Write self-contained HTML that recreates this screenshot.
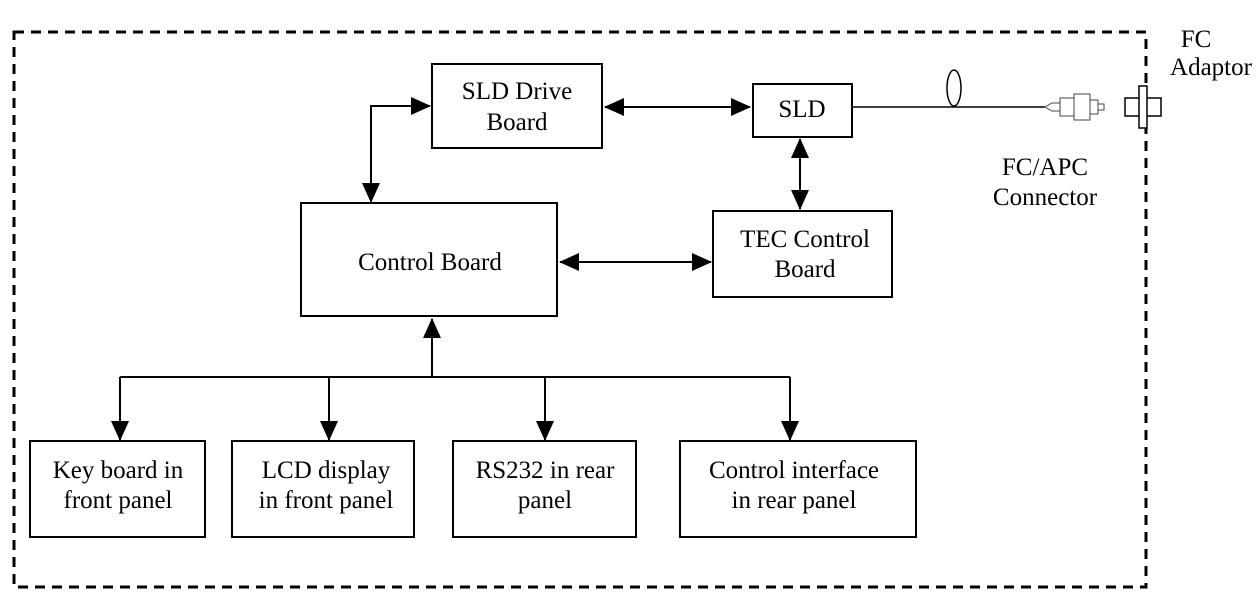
<!DOCTYPE html>
<html><head><meta charset="utf-8"><style>
html,body{margin:0;padding:0;background:#fff;}
svg text{font-family:"Liberation Serif",serif;font-size:25px;fill:#000;}
</style></head><body>
<svg width="1256" height="610" viewBox="0 0 1256 610" xmlns="http://www.w3.org/2000/svg">
<defs>
<marker id="a" markerWidth="20" markerHeight="18" refX="19" refY="9" orient="auto-start-reverse" markerUnits="userSpaceOnUse" viewBox="0 0 20 18">
<path d="M0,0 L20,9 L0,18 z" fill="#000"/></marker>
</defs>
<rect x="14" y="32" width="1132" height="555" fill="none" stroke="#000" stroke-width="3" stroke-dasharray="10,7"/>
<g fill="#fff" stroke="#000" stroke-width="2">
<rect x="432" y="64" width="170" height="84"/>
<rect x="753" y="84" width="99" height="53"/>
<rect x="301" y="203" width="256" height="113"/>
<rect x="713" y="211" width="179" height="86"/>
<rect x="30" y="441" width="175" height="96"/>
<rect x="232" y="441" width="182" height="96"/>
<rect x="453" y="441" width="183" height="96"/>
<rect x="680" y="441" width="236" height="96"/>
</g>
<g stroke="#000" stroke-width="2" fill="none">
<path d="M605,107 L750,107" marker-start="url(#a)" marker-end="url(#a)"/>
<path d="M800,139 L800,209" marker-start="url(#a)" marker-end="url(#a)"/>
<path d="M560,262 L711,262" marker-start="url(#a)" marker-end="url(#a)"/>
<path d="M371,202 L371,106 L430,106" marker-start="url(#a)" marker-end="url(#a)"/>
<path d="M432,377 L432,319" marker-end="url(#a)"/>
<path d="M120,377 L790,377"/>
<path d="M120,377 L120,440" marker-end="url(#a)"/>
<path d="M329,377 L329,440" marker-end="url(#a)"/>
<path d="M545,377 L545,440" marker-end="url(#a)"/>
<path d="M790,377 L790,440" marker-end="url(#a)"/>
<path d="M852,107 L1045,107" stroke-width="1.5"/>
<ellipse cx="954" cy="88" rx="7" ry="18" stroke-width="1.5"/>
</g>
<g stroke="#444" stroke-width="1" fill="#fff">
<path d="M1045,107 L1052,103 L1060,103 L1060,111 L1052,111 Z"/>
<rect x="1060" y="98" width="14" height="18"/>
<rect x="1074" y="94" width="16" height="26"/>
<rect x="1090" y="100" width="8" height="14"/>
<rect x="1098" y="104" width="6" height="6"/>
</g>
<g stroke="#000" stroke-width="1.5" fill="#fff">
<rect x="1125" y="98" width="36" height="18"/>
<rect x="1139" y="86" width="8" height="42"/>
</g>
<g text-anchor="middle">
<text x="517" y="99">SLD Drive</text>
<text x="517" y="130">Board</text>
<text x="802" y="117">SLD</text>
<text x="430" y="270">Control Board</text>
<text x="805" y="247">TEC Control</text>
<text x="805" y="277">Board</text>
<text x="118" y="478">Key board in</text>
<text x="118" y="508">front panel</text>
<text x="326" y="478">LCD display</text>
<text x="326" y="508">in front panel</text>
<text x="545" y="478">RS232 in rear</text>
<text x="545" y="508">panel</text>
<text x="794" y="478">Control interface</text>
<text x="794" y="508">in rear panel</text>
<text x="1196" y="47">FC</text>
<text x="1211" y="75">Adaptor</text>
<text x="1045" y="175">FC/APC</text>
<text x="1045" y="205">Connector</text>
</g>
</svg>
</body></html>
